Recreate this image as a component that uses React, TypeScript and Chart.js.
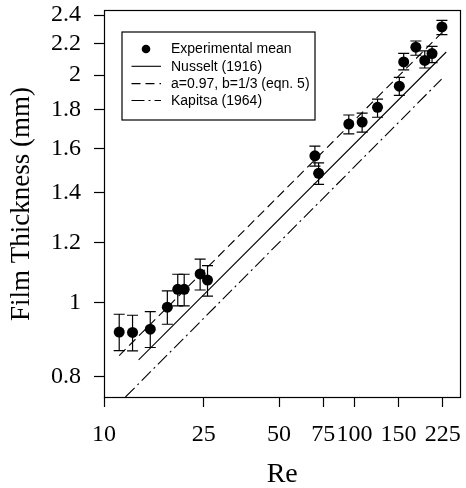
import React, { useEffect, useRef } from "react";
import { Chart, registerables } from "chart.js";

Chart.register(...registerables);

// Experimental means (Re, film thickness in mm) with error bar limits
const reValues = [11.5, 13.0, 15.3, 17.9, 19.7, 20.9, 24.2, 25.9, 69.5, 71.9, 94.9, 107.3, 123.6, 151, 157.2, 175.8, 190.8, 204, 223.4];
const thickness = [0.915, 0.914, 0.923, 0.987, 1.042, 1.042, 1.092, 1.072, 1.564, 1.483, 1.723, 1.733, 1.813, 1.933, 2.081, 2.177, 2.091, 2.135, 2.315];
const errLow = [0.865, 0.864, 0.873, 0.937, 0.991, 0.991, 1.04, 1.021, 1.516, 1.434, 1.672, 1.681, 1.759, 1.88, 2.031, 2.124, 2.043, 2.077, 2.262];
const errHigh = [0.966, 0.963, 0.974, 1.037, 1.091, 1.091, 1.142, 1.12, 1.611, 1.531, 1.771, 1.781, 1.859, 1.986, 2.136, 2.218, 2.152, 2.182, 2.362];

// Model lines (end points)
const nusseltRe = [13.75, 232.5];
const nusseltH = [0.841, 2.145];
const eqn5Re = [11.5, 222];
const eqn5H = [0.852, 2.27];
const kapitsaRe = [12.18, 222.7];
const kapitsaH = [0.751, 1.975];

// Axis ticks
const xTickValues = [10, 25, 50, 75, 100, 150, 225];
const yTickValues = [0.8, 1, 1.2, 1.4, 1.6, 1.8, 2, 2.2, 2.4];

const legendLabels = ["Experimental mean", "Nusselt (1916)", "a=0.97, b=1/3 (eqn. 5)", "Kapitsa (1964)"];

const SERIF = '"Liberation Serif", "Times New Roman", serif';
const SANS = '"Liberation Sans", Arial, sans-serif';
const DASH = [9, 5];
const DASHDOT = [13, 4, 2, 4];

const toPts = (xs: number[], ys: number[]) => xs.map((x, i) => ({ x, y: ys[i] }));

const framePlugin = {
  id: "frameAndExtras",
  afterDatasetsDraw(chart: any) {
    const ctx = chart.ctx as CanvasRenderingContext2D;
    const xs = chart.scales.x;
    const ys = chart.scales.y;
    ctx.save();
    ctx.strokeStyle = "#000";
    ctx.lineWidth = 1.2;
    reValues.forEach((re, i) => {
      const x = xs.getPixelForValue(re);
      const y1 = ys.getPixelForValue(errLow[i]);
      const y2 = ys.getPixelForValue(errHigh[i]);
      ctx.beginPath();
      ctx.moveTo(x, y1);
      ctx.lineTo(x, y2);
      ctx.moveTo(x - 5.5, y1);
      ctx.lineTo(x + 5.5, y1);
      ctx.moveTo(x - 5.5, y2);
      ctx.lineTo(x + 5.5, y2);
      ctx.stroke();
    });
    ctx.restore();
  },
  afterDraw(chart: any) {
    const ctx = chart.ctx as CanvasRenderingContext2D;
    const a = chart.chartArea;
    ctx.save();
    ctx.strokeStyle = "#000";
    ctx.lineWidth = 1.2;
    ctx.strokeRect(Math.round(a.left) + 0.5, Math.round(a.top) - 0.5, Math.round(a.right - a.left) - 1, Math.round(a.bottom - a.top) + 1);

    // legend box
    ctx.lineWidth = 1.2;
    ctx.strokeRect(122, 32, 193, 88);
    const rows = [49, 66.3, 83.6, 100.5];
    const x0 = 131.5;
    const x1 = 161;
    ctx.font = `14px ${SANS}`;
    ctx.textBaseline = "middle";
    ctx.textAlign = "left";
    ctx.fillStyle = "#000";
    rows.forEach((y, i) => {
      ctx.setLineDash([]);
      if (i === 0) {
        ctx.beginPath();
        ctx.arc(146, y, 4.3, 0, Math.PI * 2);
        ctx.fill();
      } else {
        ctx.lineWidth = 1.1;
        if (i === 2) ctx.setLineDash(DASH);
        if (i === 3) ctx.setLineDash(DASHDOT);
        ctx.beginPath();
        ctx.moveTo(x0, y);
        ctx.lineTo(x1, y);
        ctx.stroke();
      }
      ctx.setLineDash([]);
      ctx.fillText(legendLabels[i], 171, y + 0.5);
    });
    ctx.restore();
  },
};

export default function App() {
  const ref = useRef<HTMLCanvasElement | null>(null);
  useEffect(() => {
    if (!ref.current) return;
    const chart = new Chart(ref.current, {
      type: "scatter",
      data: {
        datasets: [
          {
            label: legendLabels[0],
            data: toPts(reValues, thickness),
            showLine: false,
            pointRadius: 5.5,
            pointBackgroundColor: "#000",
            pointBorderColor: "#000",
            pointBorderWidth: 0,
          },
          {
            label: legendLabels[1],
            data: toPts(nusseltRe, nusseltH),
            showLine: true,
            borderColor: "#000",
            borderWidth: 1.1,
            pointRadius: 0,
          },
          {
            label: legendLabels[2],
            data: toPts(eqn5Re, eqn5H),
            showLine: true,
            borderColor: "#000",
            borderWidth: 1.1,
            borderDash: DASH,
            pointRadius: 0,
          },
          {
            label: legendLabels[3],
            data: toPts(kapitsaRe, kapitsaH),
            showLine: true,
            borderColor: "#000",
            borderWidth: 1.1,
            borderDash: DASHDOT,
            pointRadius: 0,
          },
        ],
      } as any,
      options: {
        animation: false,
        responsive: false,
        devicePixelRatio: 1,
        layout: { padding: { top: 11, right: 1, left: 0, bottom: 0 } },
        plugins: { legend: { display: false }, tooltip: { enabled: false } },
        scales: {
          x: {
            type: "logarithmic",
            position: "bottom",
            min: 10,
            max: 265,
            afterBuildTicks: (s: any) => {
              s.ticks = xTickValues.map((v) => ({ value: v }));
            },
            afterFit: (s: any) => {
              s.height = 91;
              s.paddingLeft = 0;
              s.paddingRight = 0;
            },
            ticks: {
              autoSkip: false,
              maxRotation: 0,
              minRotation: 0,
              padding: 13,
              color: "#000",
              font: { family: SERIF, size: 24 },
              callback: (v: any) => String(v),
            },
            grid: { drawOnChartArea: false, drawTicks: true, tickLength: 10, tickColor: "#000", tickWidth: 1.2 },
            border: { display: false },
            title: {
              display: true,
              text: "Re",
              color: "#000",
              font: { family: SERIF, size: 28, lineHeight: 0.93 },
              padding: { top: 0, bottom: 0 },
            },
          },
          y: {
            type: "logarithmic",
            position: "left",
            min: 0.751,
            max: 2.43,
            afterBuildTicks: (s: any) => {
              s.ticks = yTickValues.map((v) => ({ value: v }));
            },
            afterFit: (s: any) => {
              s.width = 104;
              s.paddingTop = 0;
              s.paddingBottom = 0;
            },
            ticks: {
              autoSkip: false,
              padding: 13,
              color: "#000",
              font: { family: SERIF, size: 24 },
              callback: (v: any) => String(v),
            },
            grid: { drawOnChartArea: false, drawTicks: true, tickLength: 10, tickColor: "#000", tickWidth: 1.2 },
            border: { display: false },
            title: {
              display: true,
              text: "Film Thickness (mm)",
              color: "#000",
              font: { family: SERIF, size: 27, lineHeight: 1 },
              padding: { top: 8.5, bottom: 0 },
            },
          },
        },
      } as any,
      plugins: [framePlugin],
    });
    return () => chart.destroy();
  }, []);
  return (
    <div style={{ position: "absolute", left: 0, top: 0, width: 466, height: 488, background: "#fff" }}>
      <canvas ref={ref} width={466} height={488} style={{ display: "block" }} />
    </div>
  );
}
